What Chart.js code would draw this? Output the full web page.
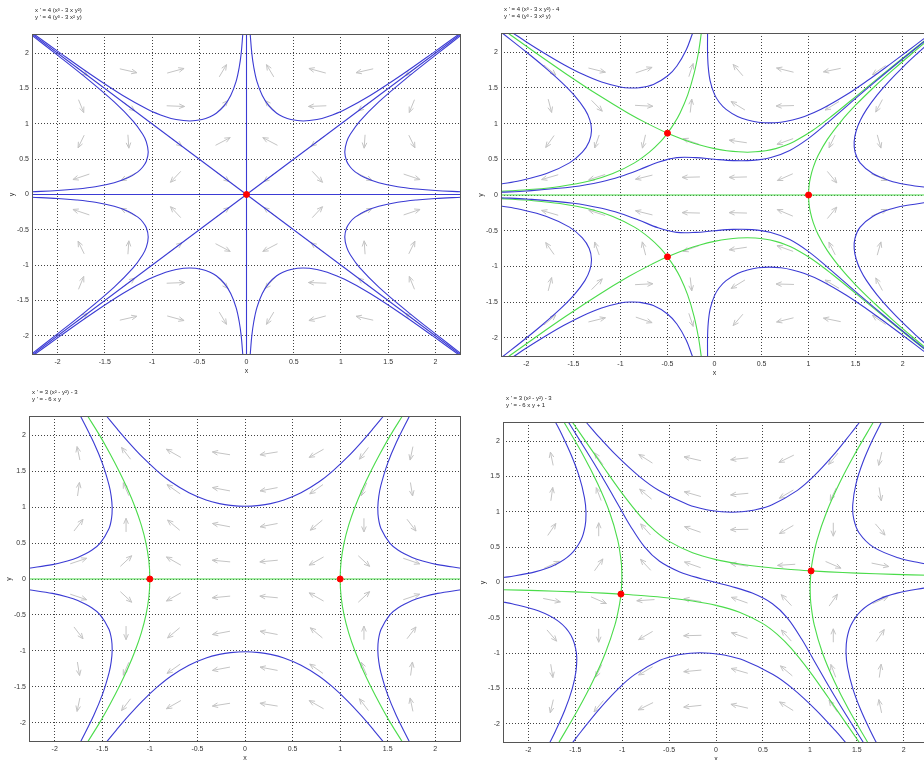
<!DOCTYPE html>
<html>
<head>
<meta charset="utf-8">
<title>Phase portraits</title>
<script src="https://cdn.jsdelivr.net/npm/chart.js@4.4.1/dist/chart.umd.min.js"></script>
<style>
  body { margin: 0; width: 924px; height: 760px; overflow: hidden; background: #fff; position: relative; }
  canvas { position: absolute; }
</style>
</head>
<body>
<canvas id="p1"></canvas>
<canvas id="p2"></canvas>
<canvas id="p3"></canvas>
<canvas id="p4"></canvas>
<script>
// tick labels shared by every panel
const tickVals = [-2, -1.5, -1, -0.5, 0, 0.5, 1, 1.5, 2];
const axisMin = -2.27;
const axisMax = 2.27;

// direction-field sample points (columns left to right, rows top to bottom)
const arrowXs = [-1.75, -1.25, -0.75, -0.25, 0.25, 0.75, 1.25, 1.75];
const arrowYs = [1.75, 1.25, 0.75, 0.25, -0.25, -0.75, -1.25, -1.75];

// ---------- panel 1 : x' = 4(x^3-3xy^2), y' = 4(y^3-3x^2y) ----------
const p1Eq = [[0, 0]];
const p1AxisX = [[-2.27, 0], [2.27, 0]];
const p1AxisY = [[0, -2.27], [0, 2.27]];
const p1Diag = [[-2.27, -2.27], [2.27, 2.27]];
const p1AntiDiag = [[-2.27, 2.27], [2.27, -2.27]];
const p1TopLeft = [[-0.039,2.27],[-0.056,2.0],[-0.077,1.8],[-0.11,1.6],[-0.167,1.4],[-0.239,1.25],[-0.32,1.15],[-0.385,1.1],[-0.47,1.06],[-0.6,1.04],[-0.745,1.06],[-0.855,1.1],[-1.038,1.2],[-1.309,1.4],[-1.652,1.7],[-1.971,2.0],[-2.251,2.27]];
const p1TopRight = [[0.039,2.27],[0.056,2.0],[0.077,1.8],[0.11,1.6],[0.167,1.4],[0.239,1.25],[0.32,1.15],[0.385,1.1],[0.47,1.06],[0.6,1.04],[0.745,1.06],[0.855,1.1],[1.038,1.2],[1.309,1.4],[1.652,1.7],[1.971,2.0],[2.251,2.27]];
const p1BottomLeft = [[-0.039,-2.27],[-0.056,-2.0],[-0.077,-1.8],[-0.11,-1.6],[-0.167,-1.4],[-0.239,-1.25],[-0.32,-1.15],[-0.385,-1.1],[-0.47,-1.06],[-0.6,-1.04],[-0.745,-1.06],[-0.855,-1.1],[-1.038,-1.2],[-1.309,-1.4],[-1.652,-1.7],[-1.971,-2.0],[-2.251,-2.27]];
const p1BottomRight = [[0.039,-2.27],[0.056,-2.0],[0.077,-1.8],[0.11,-1.6],[0.167,-1.4],[0.239,-1.25],[0.32,-1.15],[0.385,-1.1],[0.47,-1.06],[0.6,-1.04],[0.745,-1.06],[0.855,-1.1],[1.038,-1.2],[1.309,-1.4],[1.652,-1.7],[1.971,-2.0],[2.251,-2.27]];
const p1RightUp = [[2.27,0.039],[2.0,0.056],[1.8,0.077],[1.6,0.11],[1.4,0.167],[1.25,0.239],[1.15,0.32],[1.1,0.385],[1.06,0.47],[1.04,0.6],[1.06,0.745],[1.1,0.855],[1.2,1.038],[1.4,1.309],[1.7,1.652],[2.0,1.971],[2.27,2.251]];
const p1RightDown = [[2.27,-0.039],[2.0,-0.056],[1.8,-0.077],[1.6,-0.11],[1.4,-0.167],[1.25,-0.239],[1.15,-0.32],[1.1,-0.385],[1.06,-0.47],[1.04,-0.6],[1.06,-0.745],[1.1,-0.855],[1.2,-1.038],[1.4,-1.309],[1.7,-1.652],[2.0,-1.971],[2.27,-2.251]];
const p1LeftUp = [[-2.27,0.039],[-2.0,0.056],[-1.8,0.077],[-1.6,0.11],[-1.4,0.167],[-1.25,0.239],[-1.15,0.32],[-1.1,0.385],[-1.06,0.47],[-1.04,0.6],[-1.06,0.745],[-1.1,0.855],[-1.2,1.038],[-1.4,1.309],[-1.7,1.652],[-2.0,1.971],[-2.27,2.251]];
const p1LeftDown = [[-2.27,-0.039],[-2.0,-0.056],[-1.8,-0.077],[-1.6,-0.11],[-1.4,-0.167],[-1.25,-0.239],[-1.15,-0.32],[-1.1,-0.385],[-1.06,-0.47],[-1.04,-0.6],[-1.06,-0.745],[-1.1,-0.855],[-1.2,-1.038],[-1.4,-1.309],[-1.7,-1.652],[-2.0,-1.971],[-2.27,-2.251]];
const p1ArrowAngles = [
    [315, 343, 20, 66, 114, 160, 197, 225],
    [287, 315, 357, 56, 124, 183, 225, 253],
    [250, 273, 315, 35, 145, 225, 267, 290],
    [204, 214, 235, 315, 225, 305, 326, 336],
    [156, 146, 125, 45, 135, 55, 34, 24],
    [110, 87, 45, 325, 215, 135, 93, 70],
    [73, 45, 3, 304, 236, 177, 135, 107],
    [45, 17, 340, 294, 246, 200, 163, 135]
];

// ---------- panel 2 : x' = 4(x^3-3xy^2)-4, y' = 4(y^3-3x^2y) ----------
const p2Eq = [[1, 0], [-0.5, 0.866], [-0.5, -0.866]];
const p2AxisX = [[-2.27, 0], [2.27, 0]];
const p2ArcUp = [[-2.144,2.27],[-2.0,2.145],[-1.8,1.98],[-1.6,1.826],[-1.4,1.691],[-1.2,1.583],[-1.0,1.5135],[-0.9,1.4995],[-0.8,1.503],[-0.65,1.549],[-0.5,1.667],[-0.4,1.808],[-0.3,2.035],[-0.235,2.26]];
const p2LeftUp = [[-2.271,0.154],[-2.071,0.2],[-1.786,0.3],[-1.542,0.45],[-1.405,0.6],[-1.332,0.75],[-1.308,0.9],[-1.325,1.05],[-1.378,1.2],[-1.4925,1.4],[-1.642,1.6],[-1.8135,1.8],[-1.9975,2.0],[-2.257,2.27]];
const p2BandUp = [[-2.27,0.039],[-2.0,0.056],[-1.5,0.115],[-1.2,0.186],[-1.0,0.259],[-0.8,0.354],[-0.6,0.459],[-0.4,0.524],[-0.2,0.524],[0,0.5],[0.2,0.482],[0.4,0.485],[0.6,0.526],[0.8,0.625],[1.0,0.794],[1.2,1.01],[1.4,1.239],[1.6,1.466],[1.8,1.688],[2.0,1.906],[2.27,2.193]];
const p2MidUp = [[-0.0737,2.27],[-0.0738,2.0],[-0.0669,1.8],[-0.0464,1.6],[0,1.41],[0.05,1.3],[0.123,1.2],[0.245,1.1],[0.351,1.05],[0.465,1.02],[0.583,1.01],[0.706,1.02],[0.829,1.05],[0.957,1.1],[1.133,1.2],[1.3975,1.4],[1.623,1.6],[1.833,1.8],[2.036,2.0],[2.216,2.18],[2.26,2.223]];
const p2RightUp = [[2.26,0.1027],[2.0205,0.15],[1.864,0.2],[1.682,0.3],[1.548,0.45],[1.4945,0.6],[1.485,0.75],[1.5067,0.9],[1.552,1.05],[1.617,1.2],[1.728,1.4],[1.8603,1.6],[2.009,1.8],[2.1702,2.0],[2.254,2.1]];
const p2SepAUp = [[-0.14,2.27],[-0.17,2.0],[-0.2174,1.7],[-0.2855,1.4],[-0.366,1.15],[-0.43,1.0],[-0.5,0.866],[-0.571,0.75],[-0.692,0.6],[-0.8505,0.45],[-1.081,0.3],[-1.32,0.2],[-1.643,0.12],[-1.925,0.08],[-2.27,0.0512]];
const p2SepBUp = [[-2.1866,2.26],[-1.9095,2.0],[-1.581,1.7],[-1.235,1.4],[-0.922,1.15],[-0.711,1.0],[-0.5,0.866],[-0.2755,0.75],[-0.155,0.7],[-0.002,0.65],[0.13,0.62],[0.35,0.6],[0.545,0.62],[0.651,0.65],[0.764,0.7],[0.848,0.75],[1.038,0.9],[1.241,1.1],[1.521,1.4],[1.798,1.7],[2.0795,2.0],[2.2695,2.2]];
const p2ArcDown = [[-2.144,-2.27],[-2.0,-2.145],[-1.8,-1.98],[-1.6,-1.826],[-1.4,-1.691],[-1.2,-1.583],[-1.0,-1.5135],[-0.9,-1.4995],[-0.8,-1.503],[-0.65,-1.549],[-0.5,-1.667],[-0.4,-1.808],[-0.3,-2.035],[-0.235,-2.26]];
const p2LeftDown = [[-2.271,-0.154],[-2.071,-0.2],[-1.786,-0.3],[-1.542,-0.45],[-1.405,-0.6],[-1.332,-0.75],[-1.308,-0.9],[-1.325,-1.05],[-1.378,-1.2],[-1.4925,-1.4],[-1.642,-1.6],[-1.8135,-1.8],[-1.9975,-2.0],[-2.257,-2.27]];
const p2BandDown = [[-2.27,-0.039],[-2.0,-0.056],[-1.5,-0.115],[-1.2,-0.186],[-1.0,-0.259],[-0.8,-0.354],[-0.6,-0.459],[-0.4,-0.524],[-0.2,-0.524],[0,-0.5],[0.2,-0.482],[0.4,-0.485],[0.6,-0.526],[0.8,-0.625],[1.0,-0.794],[1.2,-1.01],[1.4,-1.239],[1.6,-1.466],[1.8,-1.688],[2.0,-1.906],[2.27,-2.193]];
const p2MidDown = [[-0.0737,-2.27],[-0.0738,-2.0],[-0.0669,-1.8],[-0.0464,-1.6],[0,-1.41],[0.05,-1.3],[0.123,-1.2],[0.245,-1.1],[0.351,-1.05],[0.465,-1.02],[0.583,-1.01],[0.706,-1.02],[0.829,-1.05],[0.957,-1.1],[1.133,-1.2],[1.3975,-1.4],[1.623,-1.6],[1.833,-1.8],[2.036,-2.0],[2.216,-2.18],[2.26,-2.223]];
const p2RightDown = [[2.26,-0.1027],[2.0205,-0.15],[1.864,-0.2],[1.682,-0.3],[1.548,-0.45],[1.4945,-0.6],[1.485,-0.75],[1.5067,-0.9],[1.552,-1.05],[1.617,-1.2],[1.728,-1.4],[1.8603,-1.6],[2.009,-1.8],[2.1702,-2.0],[2.254,-2.1]];
const p2SepADown = [[-0.14,-2.27],[-0.17,-2.0],[-0.2174,-1.7],[-0.2855,-1.4],[-0.366,-1.15],[-0.43,-1.0],[-0.5,-0.866],[-0.571,-0.75],[-0.692,-0.6],[-0.8505,-0.45],[-1.081,-0.3],[-1.32,-0.2],[-1.643,-0.12],[-1.925,-0.08],[-2.27,-0.0512]];
const p2SepBDown = [[-2.1866,-2.26],[-1.9095,-2.0],[-1.581,-1.7],[-1.235,-1.4],[-0.922,-1.15],[-0.711,-1.0],[-0.5,-0.866],[-0.2755,-0.75],[-0.155,-0.7],[-0.002,-0.65],[0.13,-0.62],[0.35,-0.6],[0.545,-0.62],[0.651,-0.65],[0.764,-0.7],[0.848,-0.75],[1.038,-0.9],[1.241,-1.1],[1.521,-1.4],[1.798,-1.7],[2.0795,-2.0],[2.2695,-2.2]];
const p2SepRight = [[2.33,-2.236],[2.1,-1.983],[1.9,-1.756],[1.7,-1.517],[1.5,-1.258],[1.35,-1.04],[1.2,-0.779],[1.1,-0.549],[1.05,-0.3875],[1.02,-0.245],[1.005,-0.1225],[1,0],[1.005,0.1225],[1.02,0.245],[1.05,0.3875],[1.1,0.549],[1.2,0.779],[1.35,1.04],[1.5,1.258],[1.7,1.517],[1.9,1.756],[2.1,1.983],[2.33,2.236]];
const p2ArrowAngles = [
    [312, 342, 24, 76, 123, 162, 195, 222],
    [281, 307, 356, 85, 141, 182, 219, 248],
    [242, 255, 260, 155, 169, 205, 250, 282],
    [201, 203, 198, 182, 182, 210, 302, 331],
    [159, 157, 162, 178, 178, 151, 58, 30],
    [118, 105, 101, 205, 191, 155, 111, 78],
    [79, 53, 4, 275, 219, 178, 142, 112],
    [48, 18, 336, 284, 237, 198, 165, 138]
];

// ---------- panel 3 : x' = 3(x^2-y^2)-3, y' = -6xy ----------
const p3Eq = [[-1, 0], [1, 0]];
const p3AxisX = [[-2.27, 0], [2.27, 0]];
const p3Top = [[-1.456,2.27],[-1.35,2.1],[-1.22,1.9],[-1.079,1.7],[-0.918,1.5],[-0.775,1.35],[-0.589,1.2],[-0.409,1.1],[-0.269,1.05],[-0.153,1.025],[0,1.013],[0.153,1.025],[0.269,1.05],[0.409,1.1],[0.589,1.2],[0.775,1.35],[0.918,1.5],[1.079,1.7],[1.22,1.9],[1.35,2.1],[1.456,2.27]];
const p3Bottom = [[-1.456,-2.27],[-1.35,-2.1],[-1.22,-1.9],[-1.079,-1.7],[-0.918,-1.5],[-0.775,-1.35],[-0.589,-1.2],[-0.409,-1.1],[-0.269,-1.05],[-0.153,-1.025],[0,-1.013],[0.153,-1.025],[0.269,-1.05],[0.409,-1.1],[0.589,-1.2],[0.775,-1.35],[0.918,-1.5],[1.079,-1.7],[1.22,-1.9],[1.35,-2.1],[1.456,-2.27]];
const p3LeftUp = [[-2.27,0.15],[-2.024,0.2],[-1.867,0.25],[-1.757,0.3],[-1.611,0.4],[-1.522,0.5],[-1.43,0.7],[-1.402,0.85],[-1.396,1.0],[-1.406,1.15],[-1.4275,1.3],[-1.496,1.6],[-1.59,1.9],[-1.729,2.27]];
const p3LeftDown = [[-2.27,-0.15],[-2.024,-0.2],[-1.867,-0.25],[-1.757,-0.3],[-1.611,-0.4],[-1.522,-0.5],[-1.43,-0.7],[-1.402,-0.85],[-1.396,-1.0],[-1.406,-1.15],[-1.4275,-1.3],[-1.496,-1.6],[-1.59,-1.9],[-1.729,-2.27]];
const p3RightUp = [[2.27,0.15],[2.024,0.2],[1.867,0.25],[1.757,0.3],[1.611,0.4],[1.522,0.5],[1.43,0.7],[1.402,0.85],[1.396,1.0],[1.406,1.15],[1.4275,1.3],[1.496,1.6],[1.59,1.9],[1.729,2.27]];
const p3RightDown = [[2.27,-0.15],[2.024,-0.2],[1.867,-0.25],[1.757,-0.3],[1.611,-0.4],[1.522,-0.5],[1.43,-0.7],[1.402,-0.85],[1.396,-1.0],[1.406,-1.15],[1.4275,-1.3],[1.496,-1.6],[1.59,-1.9],[1.729,-2.27]];
const p3SepLeft = [[-1.654,2.27],[-1.5275,2.0],[-1.4215,1.75],[-1.3229,1.5],[-1.2332,1.25],[-1.1547,1.0],[-1.0897,0.75],[-1.0408,0.5],[-1.0104,0.25],[-1.0,0],[-1.0104,-0.25],[-1.0408,-0.5],[-1.0897,-0.75],[-1.1547,-1.0],[-1.2332,-1.25],[-1.3229,-1.5],[-1.4215,-1.75],[-1.5275,-2.0],[-1.654,-2.27]];
const p3SepRight = [[1.654,2.27],[1.5275,2.0],[1.4215,1.75],[1.3229,1.5],[1.2332,1.25],[1.1547,1.0],[1.0897,0.75],[1.0408,0.5],[1.0104,0.25],[1.0,0],[1.0104,-0.25],[1.0408,-0.5],[1.0897,-0.75],[1.1547,-1.0],[1.2332,-1.25],[1.3229,-1.5],[1.4215,-1.75],[1.5275,-2.0],[1.654,-2.27]];
const p3ArrowAngles = [
    [99, 120, 143, 168, 192, 217, 240, 261],
    [84, 108, 137, 166, 194, 223, 252, 277],
    [60, 90, 132, 166, 194, 228, 270, 300],
    [24, 51, 143, 173, 187, 217, 309, 336],
    [336, 309, 217, 187, 173, 143, 51, 24],
    [300, 270, 228, 194, 166, 132, 90, 60],
    [277, 252, 223, 194, 166, 137, 108, 84],
    [261, 240, 217, 192, 168, 143, 120, 99]
];

// ---------- panel 4 : x' = 3(x^2-y^2)-3, y' = -6xy+1 ----------
const p4Eq = [[1.0134, 0.1644], [-1.0134, -0.1644]];
const p4Top = [[-1.386,2.27],[-1.275,2.1],[-1.064,1.8],[-0.818,1.5],[-0.608,1.3],[-0.295,1.1],[-0.101,1.03],[0.061,1.0],[0.168,0.994],[0.272,1.0],[0.425,1.03],[0.598,1.1],[0.864,1.3],[1.04,1.5],[1.25,1.8],[1.433,2.1],[1.532,2.27]];
const p4Bottom = [[1.386,-2.27],[1.275,-2.1],[1.064,-1.8],[0.818,-1.5],[0.608,-1.3],[0.295,-1.1],[0.101,-1.03],[-0.061,-1.0],[-0.168,-0.994],[-0.272,-1.0],[-0.425,-1.03],[-0.598,-1.1],[-0.864,-1.3],[-1.04,-1.5],[-1.25,-1.8],[-1.433,-2.1],[-1.532,-2.27]];
const p4Center = [[-1.574,2.27],[-1.4465,2.0],[-1.3067,1.7],[-1.1723,1.4],[-1.0427,1.1],[-0.9127,0.8],[-0.7596,0.5],[-0.6015,0.3],[-0.3862,0.15],[-0.1468,0.05],[0,0],[0.1468,-0.05],[0.3862,-0.15],[0.6015,-0.3],[0.7596,-0.5],[0.9127,-0.8],[1.0427,-1.1],[1.1723,-1.4],[1.3067,-1.7],[1.4465,-2.0],[1.574,-2.27]];
const p4LeftUp = [[-2.3,0.066],[-2.214,0.08],[-1.929,0.15],[-1.713,0.25],[-1.546,0.4],[-1.439,0.6],[-1.3946,0.8],[-1.386,1.0],[-1.402,1.2],[-1.458,1.5],[-1.542,1.8],[-1.6458,2.1],[-1.7114,2.27]];
const p4RightDown = [[2.3,-0.066],[2.214,-0.08],[1.929,-0.15],[1.713,-0.25],[1.546,-0.4],[1.439,-0.6],[1.3946,-0.8],[1.386,-1.0],[1.402,-1.2],[1.458,-1.5],[1.542,-1.8],[1.6458,-2.1],[1.7114,-2.27]];
const p4RightUp = [[2.307,0.25],[2.169,0.28],[1.9403,0.35],[1.678,0.5],[1.5258,0.7],[1.4678,0.9],[1.4573,1.1],[1.4926,1.4],[1.5654,1.7],[1.6625,2.0],[1.764,2.27]];
const p4LeftDown = [[-2.289,-0.272],[-2.173,-0.3],[-1.895,-0.4],[-1.6776,-0.55],[-1.5444,-0.75],[-1.4875,-1.0],[-1.4917,-1.25],[-1.5317,-1.5],[-1.6098,-1.8],[-1.7099,-2.1],[-1.774,-2.27]];
const p4SepRightV = [[1.678,2.27],[1.472,1.8],[1.314,1.4],[1.18,1.0],[1.077,0.6],[1.027,0.3],[1.0134,0.1644],[1.0045,0],[1.0041,-0.15],[1.011,-0.3],[1.047,-0.6],[1.1356,-1.0],[1.262,-1.4],[1.4156,-1.8],[1.621,-2.27]];
const p4SepLeftV = [[-1.678,-2.27],[-1.472,-1.8],[-1.314,-1.4],[-1.18,-1.0],[-1.077,-0.6],[-1.027,-0.3],[-1.0134,-0.1644],[-1.0045,0],[-1.0041,0.15],[-1.011,0.3],[-1.047,0.6],[-1.1356,1.0],[-1.262,1.4],[-1.4156,1.8],[-1.621,2.27]];
const p4SepRightH = [[2.27,0.102],[1.9,0.1146],[1.5,0.1328],[1.2,0.1507],[1.0134,0.1644],[0.8,0.1837],[0.5,0.2195],[0.25,0.2619],[0,0.3235],[-0.25,0.4197],[-0.5,0.5814],[-0.65,0.731],[-0.8,0.929],[-1.0,1.2608],[-1.2,1.634],[-1.4,2.018],[-1.532,2.27]];
const p4SepLeftH = [[-2.27,-0.102],[-1.9,-0.1146],[-1.5,-0.1328],[-1.2,-0.1507],[-1.0134,-0.1644],[-0.8,-0.1837],[-0.5,-0.2195],[-0.25,-0.2619],[0,-0.3235],[0.25,-0.4197],[0.5,-0.5814],[0.65,-0.731],[0.8,-0.929],[1.0,-1.2608],[1.2,-1.634],[1.4,-2.018],[1.532,-2.27]];
const p4ArrowAngles = [
    [99, 118, 140, 163, 188, 213, 238, 260],
    [84, 106, 132, 159, 187, 218, 250, 277],
    [63, 90, 124, 155, 182, 218, 270, 303],
    [31, 62, 125, 155, 168, 185, 330, 345],
    [345, 330, 185, 168, 155, 125, 62, 31],
    [303, 270, 218, 182, 155, 124, 90, 63],
    [277, 250, 218, 187, 159, 132, 106, 84],
    [260, 238, 213, 188, 163, 140, 118, 99]
];

const BLUE = '#3b3bd4';
const GREEN = '#4bdc4b';
const RED = '#ff0000';
const ARROW = '#c4c4c4';
const FONT = '"Liberation Sans", Arial, sans-serif';

// space around the plot box inside each canvas
const padL = 24, padT = 34, padR = 4, padB = 20;

function toPts(arr) {
    return arr.map(p => ({ x: p[0], y: p[1] }));
}

function curve(arr, color) {
    return {
        data: toPts(arr),
        showLine: true,
        borderColor: color,
        borderWidth: 1.1,
        pointRadius: 0,
        tension: 0.35,
        fill: false
    };
}

function dots(arr) {
    return {
        data: toPts(arr),
        showLine: false,
        pointRadius: 3,
        pointBackgroundColor: RED,
        pointBorderColor: RED
    };
}

function axis(isX) {
    return {
        type: 'linear',
        min: axisMin,
        max: axisMax,
        afterBuildTicks: s => { s.ticks = tickVals.map(v => ({ value: v })); },
        afterFit: s => { if (isX) s.height = padB; else s.width = padL; },
        grid: { color: '#111', lineWidth: 0.8, drawTicks: false },
        border: { display: false, dash: [1, 2] },
        ticks: { font: { size: 7, family: FONT }, color: '#333', padding: 3, callback: v => String(v) },
        title: { display: true, text: isX ? 'x' : 'y', font: { size: 7, family: FONT }, color: '#333', padding: 0 }
    };
}

// light grey direction arrows, placed through the chart scales
const arrowPlugin = {
    id: 'arrows',
    beforeDatasetsDraw(chart, args, opts) {
        const ctx = chart.ctx;
        const a = chart.chartArea;
        const sx = chart.scales.x, sy = chart.scales.y;
        const half = 0.095;
        ctx.save();
        ctx.beginPath();
        ctx.rect(a.left, a.top, a.right - a.left, a.bottom - a.top);
        ctx.clip();
        ctx.strokeStyle = ARROW;
        ctx.lineWidth = 1;
        arrowYs.forEach((yv, r) => {
            arrowXs.forEach((xv, c) => {
                const ang = opts.angles[r][c] * Math.PI / 180;
                const dx = Math.cos(ang) * half, dy = Math.sin(ang) * half;
                const x0 = sx.getPixelForValue(xv - dx), y0 = sy.getPixelForValue(yv - dy);
                const x1 = sx.getPixelForValue(xv + dx), y1 = sy.getPixelForValue(yv + dy);
                const t = Math.atan2(y1 - y0, x1 - x0);
                ctx.beginPath();
                ctx.moveTo(x0, y0);
                ctx.lineTo(x1, y1);
                ctx.moveTo(x1 - 6 * Math.cos(t - 0.4), y1 - 6 * Math.sin(t - 0.4));
                ctx.lineTo(x1, y1);
                ctx.lineTo(x1 - 6 * Math.cos(t + 0.4), y1 - 6 * Math.sin(t + 0.4));
                ctx.stroke();
            });
        });
        ctx.restore();
    }
};

// equation text above the box and the box frame
const framePlugin = {
    id: 'frame',
    afterDraw(chart, args, opts) {
        const ctx = chart.ctx;
        const a = chart.chartArea;
        ctx.save();
        ctx.strokeStyle = '#555';
        ctx.lineWidth = 1;
        ctx.strokeRect(a.left + 0.5, a.top + 0.5, a.right - a.left - 1, a.bottom - a.top - 1);
        ctx.fillStyle = '#222';
        ctx.font = '6px ' + FONT;
        ctx.textBaseline = 'middle';
        ctx.fillText(opts.lines[0], a.left + 3, a.top - 24);
        ctx.fillText(opts.lines[1], a.left + 3, a.top - 16.5);
        ctx.restore();
    }
};

const panels = [
    {
        id: 'p1', left: 32, top: 34, w: 430, h: 321,
        lines: ["x ' = 4 (x³ - 3 x y²)", "y ' = 4 (y³ - 3 x² y)"],
        angles: p1ArrowAngles,
        datasets: [
            dots(p1Eq),
            curve(p1AxisX, BLUE), curve(p1AxisY, BLUE), curve(p1Diag, BLUE), curve(p1AntiDiag, BLUE),
            curve(p1TopLeft, BLUE), curve(p1TopRight, BLUE), curve(p1BottomLeft, BLUE), curve(p1BottomRight, BLUE),
            curve(p1RightUp, BLUE), curve(p1RightDown, BLUE), curve(p1LeftUp, BLUE), curve(p1LeftDown, BLUE)
        ]
    },
    {
        id: 'p2', left: 501, top: 33, w: 428, h: 324,
        lines: ["x ' = 4 (x³ - 3 x y²) - 4", "y ' = 4 (y³ - 3 x² y)"],
        angles: p2ArrowAngles,
        datasets: [
            dots(p2Eq),
            curve(p2ArcUp, BLUE), curve(p2LeftUp, BLUE), curve(p2BandUp, BLUE), curve(p2MidUp, BLUE), curve(p2RightUp, BLUE),
            curve(p2ArcDown, BLUE), curve(p2LeftDown, BLUE), curve(p2BandDown, BLUE), curve(p2MidDown, BLUE), curve(p2RightDown, BLUE),
            curve(p2AxisX, GREEN), curve(p2SepAUp, GREEN), curve(p2SepBUp, GREEN),
            curve(p2SepADown, GREEN), curve(p2SepBDown, GREEN), curve(p2SepRight, GREEN)
        ]
    },
    {
        id: 'p3', left: 29, top: 416, w: 433, h: 326,
        lines: ["x ' = 3 (x² - y²) - 3", "y ' = - 6 x y"],
        angles: p3ArrowAngles,
        datasets: [
            dots(p3Eq),
            curve(p3Top, BLUE), curve(p3Bottom, BLUE),
            curve(p3LeftUp, BLUE), curve(p3LeftDown, BLUE), curve(p3RightUp, BLUE), curve(p3RightDown, BLUE),
            curve(p3AxisX, GREEN), curve(p3SepLeft, GREEN), curve(p3SepRight, GREEN)
        ]
    },
    {
        id: 'p4', left: 503, top: 422, w: 427, h: 321,
        lines: ["x ' = 3 (x² - y²) - 3", "y ' = - 6 x y + 1"],
        angles: p4ArrowAngles,
        datasets: [
            dots(p4Eq),
            curve(p4Top, BLUE), curve(p4Bottom, BLUE), curve(p4Center, BLUE),
            curve(p4LeftUp, BLUE), curve(p4RightDown, BLUE), curve(p4RightUp, BLUE), curve(p4LeftDown, BLUE),
            curve(p4SepRightV, GREEN), curve(p4SepLeftV, GREEN), curve(p4SepRightH, GREEN), curve(p4SepLeftH, GREEN)
        ]
    }
];

panels.forEach(p => {
    const canvas = document.getElementById(p.id);
    const cw = padL + p.w + padR;
    const ch = padT + p.h + padB;
    canvas.width = cw;
    canvas.height = ch;
    canvas.style.width = cw + 'px';
    canvas.style.height = ch + 'px';
    canvas.style.left = (p.left - padL) + 'px';
    canvas.style.top = (p.top - padT) + 'px';

    new Chart(canvas.getContext('2d'), {
        type: 'scatter',
        data: { datasets: p.datasets },
        options: {
            responsive: false,
            animation: false,
            devicePixelRatio: 1,
            layout: { padding: { top: padT, right: padR, left: 0, bottom: 0 } },
            elements: { line: { capBezierPoints: false } },
            scales: { x: axis(true), y: axis(false) },
            plugins: {
                legend: { display: false },
                tooltip: { enabled: false },
                arrows: { angles: p.angles },
                frame: { lines: p.lines }
            }
        },
        plugins: [arrowPlugin, framePlugin]
    });
});
</script>
</body>
</html>
